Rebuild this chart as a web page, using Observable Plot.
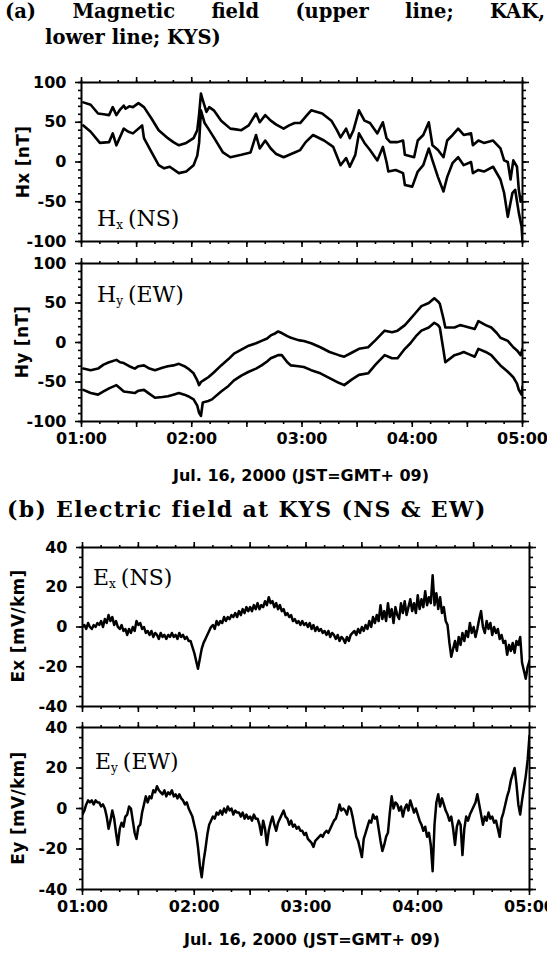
<!DOCTYPE html>
<html><head><meta charset="utf-8">
<script src="https://cdn.jsdelivr.net/npm/d3@7"></script>
<script src="https://cdn.jsdelivr.net/npm/@observablehq/plot@0.6"></script>
<style>
body{margin:0;background:#fff;}
#wrap{position:relative;width:547px;height:956px;overflow:hidden;background:#fff;color:#000;}
.abs{position:absolute;white-space:nowrap;}
.ttl{font-family:"DejaVu Serif";font-weight:bold;font-size:19.5px;line-height:24px;}
.ttlb{font-family:"DejaVu Serif";font-weight:bold;font-size:22px;line-height:24px;letter-spacing:1.3px;}
.plab{font-family:"DejaVu Serif";font-size:22px;line-height:24px;}
.plab sub{font-size:12px;vertical-align:-3px;margin-right:5px;}
.cap{font-family:"DejaVu Sans";font-weight:bold;font-size:16px;line-height:20px;text-align:center;}
.ylab{font-family:"DejaVu Sans";font-weight:bold;font-size:17px;letter-spacing:0.3px;transform:translate(-50%,-50%) rotate(-90deg);}
svg{overflow:visible;}
</style></head><body><div id="wrap"></div>
<script>
// ---- time axis (minutes after 01:00 JST) ----
const hourTicks = [0, 60, 120, 180, 240];
const hourLabels = ["01:00", "02:00", "03:00", "04:00", "05:00"];
const halfHourTicks = [0, 30, 60, 90, 120, 150, 180, 210, 240];
const tenMinTicks = d3.range(0, 241, 10);

// ---- Hx [nT] : [minute, value] ----
const hxKAK = [[1,75],[5,72],[9,61],[12,60],[15,59],[17,69],[19,59],[21,66],[23,71],[24,67],[26,70],[28,69],[31,74],[34,69],[38,55],[42,40],[47,30],[50,25],[53,21],[57,24],[61,30],[63,40],[64,60],[65,86],[66,78],[68,63],[69.5,69],[72,65],[76,52],[81,42],[84,41],[87,40],[91,46],[95,61],[97,50],[100,59],[103,52],[106,47],[110,42],[113,46],[116,49],[119,49],[122,57],[125,65],[131,61],[136,52],[139,40],[141,31],[144,42],[146,30],[148,40],[151,65],[154,52],[157,49],[161,36],[164,50],[166,30],[168,25],[172,25],[175,27],[176,9],[181,6],[183,27],[186,34],[189,50],[191,21],[194,15],[197,6],[199,27],[202,34],[205,42],[208,34],[212,36],[213,21],[216,27],[219,24],[224,27],[228,17],[230,2],[232,0],[233.5,-22],[235,2],[237,-6],[238,-35],[239,-50],[240,-43]];
const hxKYS = [[1,46],[5,38],[10,24],[15,25],[17,36],[19,21],[23,42],[25.5,38],[28,36],[33,46],[34,30],[37,17],[42,-4],[45,-8],[48,-6],[53,-14],[57,-12],[61,-4],[63,8],[64,24],[65,65],[67,49],[69,42],[72,31],[77,12],[81,6],[87,9],[92,12],[95,34],[97,17],[100,27],[103,17],[106,10],[110,6],[116,12],[119,15],[122,25],[126,34],[132,27],[137,19],[141,-4],[144,5],[146,-6],[149,9],[151,36],[154,24],[157,15],[161,2],[164,19],[166,0],[167,-12],[171,-10],[175,-14],[176,-29],[180,-31],[183,-12],[186,-4],[189,17],[191,2],[194,-19],[197,-37],[199,-19],[202,-1],[205,6],[208,-4],[212,0],[213,-14],[216,-10],[219,-12],[224,-6],[228,-22],[230,-39],[232,-69],[234.5,-39],[236,-35],[238,-64],[239.5,-81],[240,-100]];

// ---- Hy [nT] : [minute, value] ----
const hyKAK = [[1,-33],[5,-35],[9,-33],[12,-28],[15,-25],[19,-22],[21,-25],[23,-26],[26,-30],[29,-33],[31,-30],[34,-29],[37,-33],[40,-35],[44,-32],[47,-30],[50,-29],[53,-27],[56,-30],[58,-33],[61,-39],[63,-48],[64,-54],[65,-50],[67,-47],[69,-44],[72,-38],[76,-29],[80,-21],[83,-14],[87,-9],[91,-4],[95,-1],[98,2],[101,5],[103,9],[105,11],[107,14],[109,12],[112,8],[114,6],[118,3],[121,2],[125,-1],[130,-6],[135,-12],[140,-16],[143,-18],[147,-13],[151,-8],[156,-6],[160,3],[165,15],[169,13],[172,15],[176,22],[179,30],[182,38],[185,46],[189,50],[192,56],[194,52],[195,49],[197,30],[198,19],[203,19],[206,22],[208,21],[211,19],[214,17],[216,27],[220,22],[223,19],[226,12],[228,6],[232,2],[235,-6],[237,-10],[239,-16],[240,-8]];
const hyKYS = [[1,-60],[5,-64],[9,-66],[12,-62],[15,-58],[19,-54],[21,-58],[23,-62],[26,-63],[29,-64],[31,-61],[34,-60],[37,-65],[40,-70],[44,-69],[47,-68],[50,-66],[53,-64],[56,-66],[58,-68],[61,-72],[63,-80],[64,-89],[65,-93],[66,-76],[69,-74],[71,-72],[76,-62],[80,-55],[83,-48],[87,-42],[91,-37],[95,-33],[98,-29],[101,-24],[103,-20],[105,-18],[107,-16],[109,-16],[112,-25],[114,-29],[118,-30],[121,-31],[125,-35],[130,-39],[135,-45],[140,-51],[143,-54],[147,-47],[151,-41],[156,-39],[160,-28],[165,-16],[169,-20],[172,-20],[176,-8],[179,-1],[182,8],[185,15],[189,19],[192,25],[194,22],[195,19],[197,-10],[198,-25],[203,-16],[206,-14],[208,-12],[211,-15],[214,-18],[216,-8],[220,-12],[223,-16],[226,-24],[228,-29],[232,-37],[235,-44],[237,-52],[238,-60],[239.5,-66],[240,-56]];

// ---- Ex, Ey [mV/km] at KYS, one value per minute from 01:00 to 05:00 ----
const exKYS = [0,1,-1,2,0,-1,1,0,2,1,3,0,4,2,6,3,5,1,3,0,-1,1,-2,-1,-4,-1,-3,0,-2,3,1,2,-1,0,-3,-2,-4,-2,-5,-3,-4,-6,-3,-5,-4,-6,-4,-5,-3,-5,-4,-6,-3,-5,-4,-6,-5,-7,-7,-10,-13,-17,-21,-16,-11,-8,-6,-4,-2,0,1,-1,3,1,3,2,5,3,5,4,6,5,7,5,8,6,9,7,10,8,10,8,11,9,12,9,11,10,13,11,15,12,13,10,12,9,11,8,9,6,7,5,6,3,4,2,3,1,3,1,2,0,2,-1,1,-2,0,-2,-1,-3,-2,-4,-2,-5,-3,-4,-6,-4,-7,-5,-6,-8,-5,-7,-4,-3,-2,-4,-1,-3,0,-2,1,-1,3,0,5,2,6,3,11,4,8,3,12,5,9,2,10,6,4,12,7,13,6,10,14,8,12,7,16,9,14,10,18,11,15,12,26,11,17,9,15,7,10,3,1,-8,-15,-11,-7,-12,-5,-9,-3,-7,-2,-5,2,-3,0,-5,-1,4,8,0,-3,3,-1,2,-4,0,-3,-1,-6,-4,-8,-7,-14,-9,-12,-8,-13,-7,-9,-5,-18,-22,-26,-20,-17];
const eyKYS = [-3,-1,2,4,3,4,2,4,3,3,1,2,0,-4,-10,-6,-1,-5,-12,-18,-10,-7,-9,-4,-3,1,0,-6,-12,-15,-9,-8,-2,2,6,3,6,5,9,8,11,9,8,7,9,6,8,7,9,6,7,5,7,5,4,2,3,0,-2,-4,-8,-12,-19,-28,-34,-26,-20,-13,-8,-6,-4,-5,-2,-3,-1,-3,0,-2,1,-1,0,-3,-1,-2,-2,-4,-2,-5,-3,-5,-4,-6,-3,-5,-5,-8,-13,-6,-10,-18,-11,-7,-4,-8,-11,-7,-5,-3,-1,-4,-5,-8,-6,-9,-8,-10,-9,-11,-11,-13,-12,-15,-16,-17,-19,-16,-15,-14,-13,-14,-12,-11,-12,-10,-8,-6,-5,-2,2,-1,0,-1,-3,1,0,-4,-9,-14,-16,-20,-24,-15,-12,-9,-6,-7,-3,-5,-4,-10,-16,-21,-18,-14,-12,-2,6,0,3,2,-1,1,-4,0,2,-1,4,1,-2,0,-3,-6,-8,-11,-9,-14,-12,-18,-31,-8,3,7,1,5,2,-1,-3,-6,-4,-10,-18,-9,-6,-8,-23,-10,-4,-6,-3,-1,1,3,7,2,-3,-8,-4,-6,-2,-5,-4,-7,-6,-10,-14,-5,-2,2,6,9,14,17,20,12,2,-3,4,10,16,24,36];
const eStep = 1;

// ---- axis ticks ----
const hMajor = [-100, -50, 0, 50, 100];
const hMinor = d3.range(-100, 101, 10);
const eMajor = [-40, -20, 0, 20, 40];
const eMinor = d3.range(-40, 41, 5);

const W = 547;
const wrap = document.getElementById("wrap");

function pairs(arr) { return arr.map(([t, v]) => ({t, v})); }
function sampled(arr) { return arr.map((v, i) => ({t: i * eStep, v})); }

function panel({lines, yDomain, yMajor, yMinor, top, bottom, x0, x1, showX, lineWidth}) {
  const mt = 12, mb = showX ? 34 : 12;
  const h = bottom - top;
  const common = {stroke: "#000", strokeWidth: 1.6, label: null};
  const plot = Plot.plot({
    width: W, height: mt + h + mb,
    marginTop: mt, marginBottom: mb, marginLeft: x0, marginRight: W - x1,
    x: {domain: [0, 240]},
    y: {domain: yDomain},
    style: {fontFamily: "DejaVu Sans", fontSize: "16px", fontWeight: "bold", color: "#000", background: "transparent"},
    marks: [
      Plot.axisY({...common, ticks: yMajor, tickSize: 6, tickPadding: 9, tickFormat: d => String(d), fill: "#000"}),
      Plot.axisY({...common, ticks: yMinor, tickSize: 3, fill: "none"}),
      Plot.axisY({...common, anchor: "right", ticks: yMajor, tickSize: 6, fill: "none"}),
      Plot.axisY({...common, anchor: "right", ticks: yMinor, tickSize: 3, fill: "none"}),
      Plot.axisX({...common, anchor: "top", ticks: halfHourTicks, tickSize: 6, fill: "none"}),
      Plot.axisX({...common, anchor: "top", ticks: tenMinTicks, tickSize: 3, fill: "none"}),
      Plot.axisX({...common, anchor: "bottom", ticks: halfHourTicks, tickSize: 6, fill: "none"}),
      Plot.axisX({...common, anchor: "bottom", ticks: tenMinTicks, tickSize: 3, fill: "none"}),
      showX ? Plot.axisX({anchor: "bottom", ticks: hourTicks, tickSize: 0, tickPadding: 11, label: null,
        tickFormat: d => hourLabels[hourTicks.indexOf(d)], fill: "#000"}) : null,
      ...lines.map(d => Plot.line(d, {x: "t", y: "v", stroke: "#000", strokeWidth: lineWidth, strokeLinejoin: "round", clip: true})),
      Plot.frame({stroke: "#000", strokeWidth: 2})
    ]
  });
  plot.style.position = "absolute";
  plot.style.left = "0px";
  plot.style.top = (top - mt) + "px";
  wrap.appendChild(plot);
}

function addDiv(cls, html, css) {
  const d = document.createElement("div");
  d.className = "abs " + cls;
  d.innerHTML = html;
  Object.assign(d.style, css);
  wrap.appendChild(d);
  return d;
}

// Titles
addDiv("ttl", "(a) Magnetic field (upper line; KAK,", {left: "5px", top: "0px", width: "540px", textAlign: "justify", textAlignLast: "justify"});
addDiv("ttl", "lower line; KYS)", {left: "45px", top: "26px"});

// Panels (a)
panel({lines: [pairs(hxKAK), pairs(hxKYS)], yDomain: [-100, 100], yMajor: hMajor, yMinor: hMinor, top: 82, bottom: 241, x0: 81, x1: 522, showX: false, lineWidth: 2.6});
panel({lines: [pairs(hyKAK), pairs(hyKYS)], yDomain: [-100, 100], yMajor: hMajor, yMinor: hMinor, top: 263, bottom: 421, x0: 81, x1: 522, showX: true, lineWidth: 2.6});

addDiv("ylab", "Hx [nT]", {left: "23px", top: "162px"});
addDiv("ylab", "Hy [nT]", {left: "22px", top: "342px"});
addDiv("plab", "H<sub>x</sub>(NS)", {left: "97px", top: "207px"});
addDiv("plab", "H<sub>y</sub>(EW)", {left: "97px", top: "283px"});
addDiv("cap", "Jul. 16, 2000 (JST=GMT+ 09)", {left: "151px", top: "466px", width: "300px"});

// Title (b)
addDiv("ttlb", "(b) Electric field at KYS (NS &amp; EW)", {left: "7px", top: "497px"});

// Panels (b)
panel({lines: [sampled(exKYS)], yDomain: [-40, 40], yMajor: eMajor, yMinor: eMinor, top: 547, bottom: 706, x0: 82, x1: 529, showX: false, lineWidth: 2.5});
panel({lines: [sampled(eyKYS)], yDomain: [-40, 40], yMajor: eMajor, yMinor: eMinor, top: 727, bottom: 889, x0: 82, x1: 529, showX: true, lineWidth: 2.5});

addDiv("ylab", "Ex [mV/km]", {left: "18px", top: "626px"});
addDiv("ylab", "Ey [mV/km]", {left: "18px", top: "808px"});
addDiv("plab", "E<sub>x</sub>(NS)", {left: "93px", top: "566px"});
addDiv("plab", "E<sub>y</sub>(EW)", {left: "95px", top: "750px"});
addDiv("cap", "Jul. 16, 2000 (JST=GMT+ 09)", {left: "162px", top: "930px", width: "300px"});
</script></body></html>
